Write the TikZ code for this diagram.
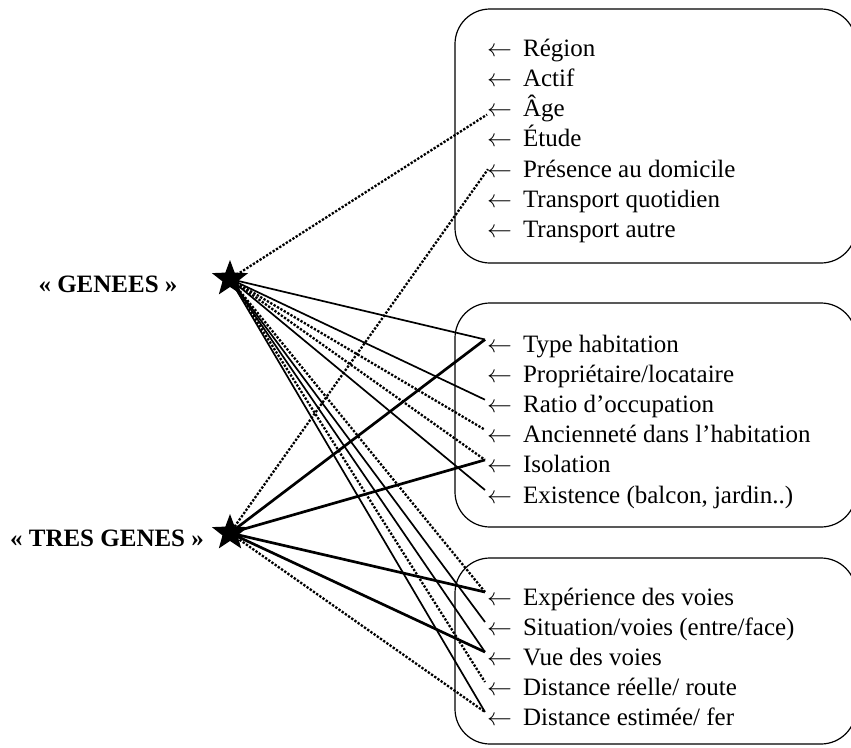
\documentclass[tikz,border=0pt]{standalone}
\usepackage{fontspec}
\setmainfont{Liberation Serif}
\usetikzlibrary{shapes.geometric}
\newcommand{\arw}{$\leftarrow$\hspace{11pt}}
\begin{document}
\begin{tikzpicture}[x=1pt,y=-1pt,
  item/.style={anchor=base west, inner sep=0pt, font=\fontsize{25}{30}\selectfont},
  lab/.style={inner sep=0pt, font=\fontsize{25}{30}\selectfont\bfseries},
  box/.style={draw, line width=1.2pt, rounded corners=35pt},
  starnode/.style={star, star points=5, star point ratio=2.4, fill=black, draw=none, minimum size=38pt, inner sep=0pt},
  sol/.style={line width=1.7pt},
  heavy/.style={line width=2.7pt},
  dots/.style={line width=2.3pt, dash pattern=on 2.3pt off 1.6pt}]
\useasboundingbox (0,0) rectangle (851,747);
% boxes
\draw[box] (455,9) rectangle (856,263);
\draw[box] (455,303) rectangle (856,527);
\draw[box] (455,558) rectangle (856,744);
% items box 1
\node[item] (r1) at (487,56) {\arw Région};
\node[item] (r2) at (487,86.3) {\arw Actif};
\node[item] (r3) at (487,116.6) {\arw Âge};
\node[item] (r4) at (487,146.9) {\arw Étude};
\node[item] (r5) at (487,177.2) {\arw Présence au domicile};
\node[item] (r6) at (487,207.5) {\arw Transport quotidien};
\node[item] (r7) at (487,237.8) {\arw Transport autre};
% items box 2
\node[item] (h1) at (487,352.5) {\arw Type habitation};
\node[item] (h2) at (487,382.6) {\arw Propriétaire/locataire};
\node[item] (h3) at (487,412.7) {\arw Ratio d’occupation};
\node[item] (h4) at (487,442.8) {\arw Ancienneté dans l’habitation};
\node[item] (h5) at (487,472.9) {\arw Isolation};
\node[item] (h6) at (487,503) {\arw Existence (balcon, jardin..)};
% items box 3
\node[item] (v1) at (487,605) {\arw Expérience des voies};
\node[item] (v2) at (487,635) {\arw Situation/voies (entre/face)};
\node[item] (v3) at (487,665) {\arw Vue des voies};
\node[item] (v4) at (487,695) {\arw Distance réelle/ route};
\node[item] (v5) at (487,725) {\arw Distance estimée/ fer};
% end points
\coordinate (er3) at ([shift={(0pt,2pt)}]r3.base west);
\coordinate (er5) at ([shift={(1pt,8pt)}]r5.base west);
\foreach \n in {h1,h3,h4,h5,h6,v1,v2,v3,v4,v5}
  \coordinate (e\n) at ([shift={(-2pt,13pt)}]\n.base west);
% labels and stars
\node[lab] (lg) at (108,284) {« GENEES »};
\node[lab] (lt) at (107,538) {« TRES GENES »};
\node[starnode] (g) at (230,279) {};
\node[starnode] (t) at (230,533) {};
% connectors from GENEES
\draw[dots] (g.center) -- (er3);
\draw[sol] (g.center) -- (eh1);
\draw[sol] (g.center) -- (eh3);
\draw[dots] (g.center) -- (eh4);
\draw[dots] (g.center) -- (eh5);
\draw[sol] (g.center) -- (eh6);
\draw[dots] (g.center) -- (ev1);
\draw[sol] (g.center) -- (ev2);
\draw[sol] (g.center) -- (ev3);
\draw[dots] (g.center) -- (ev4);
\draw[sol] (g.center) -- (ev5);
% connectors from TRES GENES
\draw[dots] (t.center) -- (er5);
\draw[heavy] (t.center) -- (eh1);
\draw[heavy] (t.center) -- (eh5);
\draw[heavy] (t.center) -- (ev1);
\draw[heavy] (t.center) -- (ev3);
\draw[dots] (t.center) -- (ev5);
\end{tikzpicture}
\end{document}
